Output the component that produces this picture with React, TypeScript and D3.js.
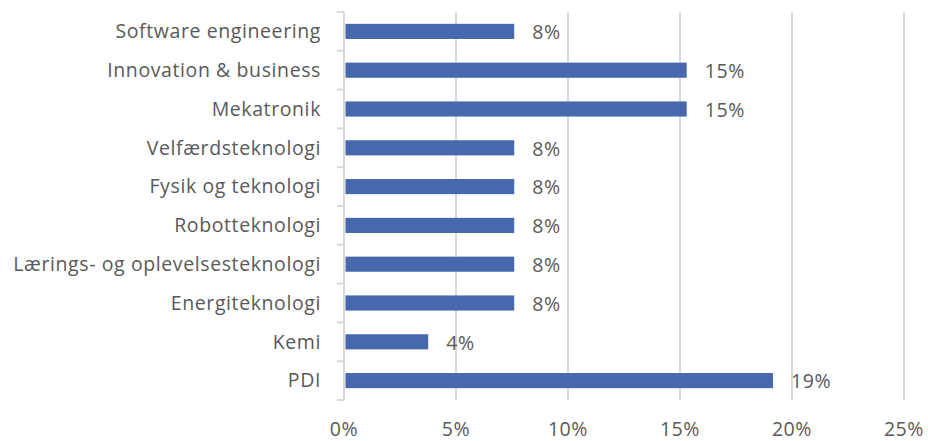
import React from "react";
import * as d3 from "d3";

const categories = [
  "Software engineering",
  "Innovation & business",
  "Mekatronik",
  "Velfærdsteknologi",
  "Fysik og teknologi",
  "Robotteknologi",
  "Lærings- og oplevelsesteknologi",
  "Energiteknologi",
  "Kemi",
  "PDI",
];
const values = [0.076, 0.153, 0.153, 0.076, 0.076, 0.076, 0.076, 0.076, 0.0376, 0.1915];
const labels = ["8%", "15%", "15%", "8%", "8%", "8%", "8%", "8%", "4%", "19%"];
const xTicks = [0, 0.05, 0.1, 0.15, 0.2, 0.25];

const W = 928;
const H = 441;
const FONT = "'Open Sans', Lato, sans-serif";
const TEXT = "#595959";
const GRID = "#d9d9d9";
const BAR = "#4868ae";
const FS = 19.5;
const LS = 0.6;

export default function App() {
  const x = d3.scaleLinear().domain([0, 0.25]).range([344, 904]);
  const y = d3.scaleBand<string>().domain(categories).range([12, 400]).paddingInner(0.61).paddingOuter(0.305);
  const step = y.step();
  const fmt = d3.format(".0%");
  return (
    <svg width={W} height={H} style={{ position: "absolute", left: 0, top: 0, background: "#fff" }} fontFamily={FONT}>
      {xTicks.map((t) => (
        <line key={"g" + t} x1={x(t)} x2={x(t)} y1={12} y2={400} stroke={GRID} strokeWidth={2} />
      ))}
      <line x1={x(0)} x2={x(0)} y1={12} y2={400} stroke={GRID} strokeWidth={2} />
      {d3.range(categories.length + 1).map((i) => (
        <line key={"t" + i} x1={x(0) - 7} x2={x(0)} y1={12 + i * step} y2={12 + i * step} stroke={GRID} strokeWidth={2} />
      ))}
      {categories.map((c, i) => (
        <g key={c}>
          <rect x={x(0) + 1.5} y={y(c)!} width={x(values[i]) - x(0) - 1.5} height={y.bandwidth()} fill={BAR} />
          <text x={321} y={y(c)! + y.bandwidth() / 2} dy="0.35em" textAnchor="end" fontSize={FS} letterSpacing={LS} fill={TEXT}>
            {c}
          </text>
          <text x={x(values[i]) + 18} y={y(c)! + y.bandwidth() / 2 + 1} dy="0.35em" fontSize={FS} letterSpacing={LS} fill={TEXT}>
            {labels[i]}
          </text>
        </g>
      ))}
      {xTicks.map((t) => (
        <text key={"l" + t} x={x(t)} y={436} textAnchor="middle" fontSize={FS} letterSpacing={LS} fill={TEXT}>
          {fmt(t)}
        </text>
      ))}
    </svg>
  );
}
